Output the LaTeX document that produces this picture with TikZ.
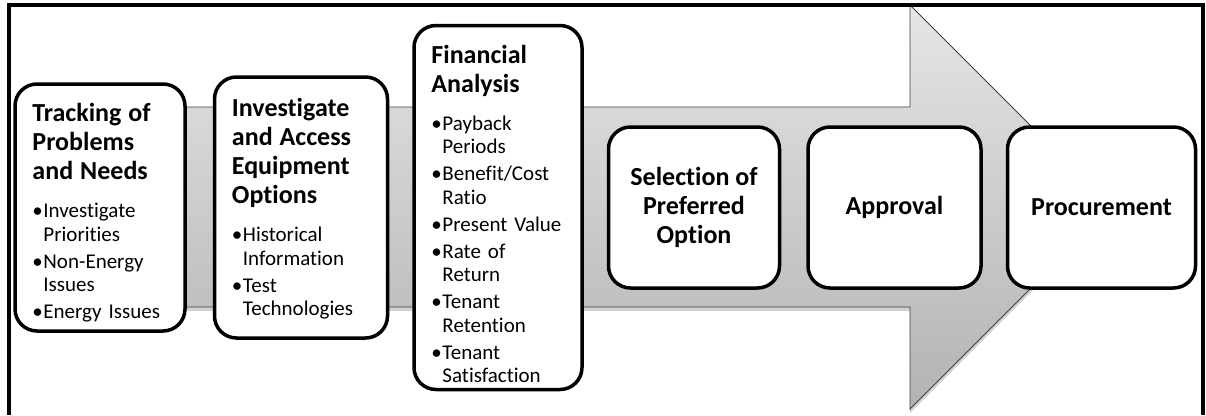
\documentclass[tikz,border=0pt]{standalone}
\usepackage{fontspec}
\setmainfont{Carlito}[Ligatures=NoCommon]
\usepackage{tikz}
\usetikzlibrary{arrows,positioning,shapes,shadows}

\setlength{\parskip}{0pt}
\newcommand{\stagetitle}[1]{\noindent{\fontsize{26}{29}\selectfont\bfseries #1\par}\vspace{11pt}}
\newcommand{\stageitem}[1]{\par\vspace{3.5pt}\hangindent=11pt\hangafter=1\noindent\makebox[11pt][l]{\textbullet}#1}

\begin{document}
\begin{tikzpicture}[x=1pt, y=-1pt]
    % Define styles
    \tikzstyle{stage} = [rectangle, draw, line width=3.5pt, fill=white, rounded corners=22pt]
    \tikzstyle{stagetext} = [inner sep=0pt, text width=155pt, font=\fontsize{21}{23.5}\selectfont, anchor=north west]
    \tikzstyle{stagehead} = [font=\fontsize{26}{29}\selectfont\bfseries, align=center]
    \tikzstyle{flow} = [draw=black!75, line width=0.8pt, top color=black!10, bottom color=black!30, drop shadow={shadow xshift=0pt, shadow yshift=-4pt, fill=black, opacity=0.18}]

    \useasboundingbox (0,0) rectangle (1206,415);

    % Big arrow
    \draw [flow] (20,107) -- (910,107) -- (910,5) -- (1112,207) -- (910,409) -- (910,307) -- (20,307) -- cycle;

    % Nodes
    \node [stage, minimum width=170pt, minimum height=247pt] (track) at (100,207.5) {};
    \node [stage, minimum width=173pt, minimum height=261pt, right=26pt of track] (invest) {};
    \node [stage, minimum width=168pt, minimum height=364pt, right=23pt of invest] (finance) {};
    \node [stage, stagehead, minimum width=171pt, minimum height=161pt, right=23pt of finance] (select) {Selection of\\Preferred\\Option};
    \node [stage, stagehead, minimum width=173pt, minimum height=161pt, right=25pt of select] (approve) {Approval};
    \node [stage, stagehead, minimum width=188pt, minimum height=161pt, right=23pt of approve] (procure) {Procurement};

    % Stage details
    \node [stagetext] (tracktxt) at ([xshift=19pt, yshift=-21pt]track.north west) {%
        \stagetitle{Tracking of\\Problems\\and Needs}%
        \stageitem{Investigate\newline Priorities}%
        \stageitem{Non-Energy\newline Issues}%
        \stageitem{Energy Issues}\par};
    \node [stagetext] (investtxt) at ([xshift=19pt, yshift=-23pt]invest.north west) {%
        \stagetitle{Investigate\\and Access\\Equipment\\Options}%
        \stageitem{Historical\newline Information}%
        \stageitem{Test\newline Technologies}\par};
    \node [stagetext] (financetxt) at ([xshift=19pt, yshift=-21pt]finance.north west) {%
        \stagetitle{Financial\\Analysis}%
        \stageitem{Payback\newline Periods}%
        \stageitem{Benefit/Cost\newline Ratio}%
        \stageitem{Present Value}%
        \stageitem{Rate of\newline Return}%
        \stageitem{Tenant\newline Retention}%
        \stageitem{Tenant\newline Satisfaction}\par};

    % Frame
    \draw [line width=3.5pt] (9,415) -- (9,5) -- (1203,5) -- (1203,415);

\end{tikzpicture}
\end{document}
